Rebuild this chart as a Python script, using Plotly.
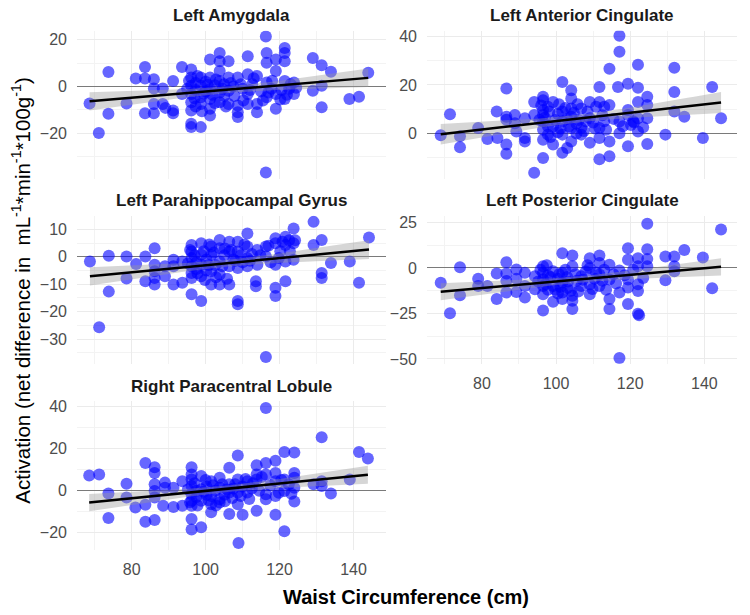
import numpy as np
import plotly.graph_objects as go

# ---------------- data ----------------
regions = ["Left Amygdala", "Left Anterior Cingulate", "Left Parahippocampal Gyrus",
           "Left Posterior Cingulate", "Right Paracentral Lobule"]

p1_x = [68.6, 71.1, 73.7, 73.7, 78.6, 81.1, 83.6, 83.6, 83.6, 86.0, 86.0, 86.0, 86.0, 88.4, 88.4, 89.1,
        91.2, 91.2, 91.2, 93.6, 93.6, 96.1, 96.1, 96.1, 96.1, 96.1, 96.1, 96.1, 96.1, 97.3, 97.3, 97.3,
        98.7, 98.7, 98.7, 98.7, 98.7, 100.0, 100.0, 101.2, 101.2, 101.2, 101.2, 101.2, 101.2, 102.5, 102.5,
        103.8, 103.8, 103.8, 103.8, 103.8, 103.8, 105.0, 105.0, 106.2, 106.2, 106.2, 106.2, 107.5,
        108.7, 108.7, 108.7, 108.7, 110.0, 111.4, 111.4, 111.4, 111.4, 112.6, 113.9, 113.9, 113.9, 115.0,
        116.3, 116.5, 116.5, 116.5, 116.5, 116.3, 117.8, 119.0, 119.0, 119.0, 119.0, 120.2,
        121.4, 121.4, 121.4, 121.4, 121.4, 122.6, 123.9, 123.9, 129.0, 129.0, 131.4, 131.4, 131.4,
        133.9, 138.9, 141.5, 144.0,
        95.0, 95.5, 97.0, 97.8, 99.5, 99.0, 100.5, 101.8, 102.8, 104.5, 105.5, 106.8, 107.8, 109.5,
        110.2, 112.0, 113.0, 115.5, 117.0, 118.0, 120.5, 122.0, 123.0, 124.5]
p1_y = [-7.2, -19.8, 6.2, -11.6, -7.2, 3.4, 8.3, 3.4, -11.4, 3.1, -0.8, -7.4, -11.4, -0.8, -7.4, -9.1,
        2.4, -10.2, -11.4, 8.3, -3.2, 7.3, 3.8, 0.3, -3.2, -6.7, -10.2, -15.9, -17.3, 1.5, -1.5, -8.5,
        -17.3, 3.8, 0.3, -4.6, -7.4, -2.0, 2.0, 11.5, 3.8, -1.1, -5.3, -9.5, -12.4, 0.5, -7.0,
        14.3, 10.8, 6.6, 2.4, -2.5, -6.7, -4.0, 1.0, 10.8, 3.8, -1.8, -7.4, 0.0,
        3.8, -8.1, -11.0, -13.0, -1.0, 12.9, 5.2, -3.2, -7.4, 1.0, 4.5, -7.4, -11.0, -2.0,
        21.3, 14.3, 10.1, 1.7, -4.6, -36.6, -1.0, 11.5, 6.6, -3.2, -9.5, -5.5,
        16.4, 14.3, 10.8, 2.4, -5.3, -1.0, 1.7, -3.2, 12.2, -1.8, 9.1, 0.3, -8.8,
        6.3, -5.3, -4.4, 5.9,
        -1.0, 2.5, -5.0, 4.5, -3.0, -10.5, 0.8, -3.5, 3.0, -1.0, -8.5, 1.5, -4.0, 1.0,
        -6.0, -1.5, 3.5, -6.0, -2.5, 2.5, -1.5, -3.5, 1.0, -0.5]

p2_x = [68.9, 71.4, 74.1, 74.1, 79.0, 81.5, 84.0, 84.2, 86.6, 86.6, 86.6, 86.6, 86.6, 88.9, 88.9, 89.3,
        91.6, 91.6, 91.6, 94.1, 94.1, 94.1, 96.5, 96.5, 96.5, 96.5, 96.5, 96.5, 96.5, 96.5, 97.8, 97.8, 97.8,
        99.2, 99.2, 99.2, 100.5, 100.5, 101.7, 101.7, 101.7, 101.7, 101.7, 103.0, 103.0,
        104.1, 104.1, 104.1, 104.1, 104.1, 104.1, 105.5, 105.5, 106.8, 106.8, 106.8, 108.0,
        109.1, 109.1, 109.1, 110.5, 111.7, 111.7, 111.7, 111.7, 111.7, 113.0, 113.0,
        114.4, 114.4, 114.4, 114.4, 116.7, 117.1, 117.1, 117.1, 117.1, 119.4, 119.4, 119.4, 119.4, 120.8,
        122.1, 122.1, 122.1, 122.1, 122.1, 124.6, 124.6, 124.6, 124.6, 129.5, 131.9, 131.9, 131.9,
        134.6, 139.6, 142.1, 144.5,
        95.5, 96.0, 97.0, 98.2, 98.5, 99.8, 100.8, 101.2, 102.5, 103.5, 104.8, 105.8, 106.2, 107.5,
        108.5, 110.0, 110.8, 112.5, 113.5, 115.5, 118.0, 120.2, 121.0, 123.5]
p2_y = [-0.8, 7.9, -1.2, -5.7, 2.2, -2.3, 9.0, -1.9, 18.5, 6.9, 5.6, -4.6, -8.4, 7.6, 4.2, 0.8,
        6.3, -1.9, -3.3, 13.0, 7.6, -16.2, 15.1, 13.7, 9.7, 7.6, 4.9, 1.5, -2.6, -10.1, 11.0, 3.0, -0.5,
        13.0, 2.9, -4.6, 8.0, 0.5, 21.2, 9.0, 4.9, -0.5, -8.0, 6.0, -6.0,
        17.8, 14.4, 10.3, 6.9, 2.2, -3.3, 4.0, 0.0, 10.3, 2.2, -0.5, 5.0,
        13.0, 6.3, -3.9, 2.0, 19.2, 13.0, 2.2, -1.9, -10.7, 11.0, 5.0,
        26.7, 11.7, -3.3, -9.4, 19.2, 40.3, 33.7, 4.9, 0.1, 20.5, 9.7, 7.6, -5.3, 5.0,
        28.3, 18.8, 13.0, 6.3, 0.8, 15.1, 11.7, 6.3, -4.4, -0.5, 27.1, 17.1, 9.0,
        6.9, -1.9, 19.2, 6.3,
        5.5, 11.5, 6.5, 9.0, -1.5, 5.5, 12.0, 2.0, 10.5, 3.0, 8.5, 12.0, 5.5, 1.0,
        9.0, 4.5, 11.0, 7.5, 1.5, 6.0, 3.0, 3.5, 4.5, 2.5]

p3_x = [68.7, 71.2, 73.8, 73.8, 78.6, 78.6, 81.2, 83.7, 83.7, 86.2, 86.2, 86.2, 86.2, 86.2, 89.0, 89.0,
        91.3, 91.3, 91.3, 93.7, 93.7, 96.2, 96.2, 96.2, 96.2, 96.2, 96.2, 96.2, 97.5, 97.5,
        98.8, 98.8, 98.8, 98.8, 98.8, 100.2, 100.2, 101.5, 101.5, 101.5, 101.5, 102.6,
        103.8, 103.8, 103.8, 103.8, 103.8, 105.1, 106.4, 106.4, 106.4, 106.4, 107.5,
        108.7, 108.7, 108.7, 108.7, 108.7, 110.0, 111.3, 111.3, 111.3, 111.3, 112.5,
        113.6, 113.6, 114.0, 114.0, 116.3, 116.3, 116.3, 117.6, 118.9, 118.9, 118.9, 118.9, 118.9, 120.2,
        121.6, 121.6, 121.6, 121.6, 122.6, 123.8, 123.8, 123.8, 129.2, 129.2, 131.4, 131.4, 131.4,
        133.9, 139.0, 141.5, 144.2,
        95.2, 95.8, 97.0, 97.8, 99.5, 99.8, 100.8, 101.0, 102.2, 102.8, 104.5, 105.2, 105.8, 107.0,
        108.0, 109.5, 110.5, 112.0, 114.8, 117.0, 119.8, 120.8, 122.8, 124.2]
p3_y = [-1.7, -25.7, 0.4, -12.7, 0.1, -7.9, -2.6, 0.1, -8.9, 3.1, -2.9, -5.3, -7.7, -10.1, -3.5, -7.1,
        -1.1, -3.5, -10.1, -1.7, -9.5, 4.3, 1.9, -0.5, -3.5, -5.9, -7.7, -13.7, -2.0, -4.5,
        -16.1, 4.9, 0.7, -2.9, -7.1, -1.0, -5.0, 3.7, 0.7, -5.3, -10.1, -3.0,
        6.1, 3.1, -1.7, -6.5, -10.1, 0.5, 5.5, 1.9, -3.5, -10.1, -1.0,
        -16.1, -17.3, 5.5, 1.9, -4.1, -2.0, 8.5, 3.7, -0.5, -3.5, 1.0,
        -8.9, -10.7, 2.5, -2.9, 3.7, 0.1, -36.5, -2.0, 6.7, 4.9, -2.9, -11.3, -14.3, 2.0,
        7.3, 4.3, -1.7, -8.9, 6.0, 10.3, 4.9, -1.1, 12.7, 4.3, 6.1, -5.9, -7.7,
        -2.3, -1.7, -9.5, 7.0,
        -2.5, 2.5, 0.5, -6.0, 2.0, -8.5, -3.0, 4.5, 1.5, -7.5, -3.5, 3.0, -8.0, 2.5,
        -1.5, 0.5, 4.5, -1.5, 0.5, 4.0, -0.5, 5.5, 2.0, 6.0]

p4_x = [68.9, 71.4, 74.1, 74.1, 79.0, 79.0, 81.5, 84.0, 84.0, 86.6, 86.6, 86.6, 86.6, 89.3, 89.3, 89.3,
        91.6, 91.6, 91.6, 94.3, 94.3, 96.5, 96.5, 96.5, 96.5, 96.5, 96.5, 97.8, 97.8,
        99.2, 99.2, 99.2, 100.5, 100.5, 101.7, 101.7, 101.7, 101.7, 101.7, 103.0, 103.0,
        104.4, 104.4, 104.4, 104.4, 104.4, 105.6, 106.8, 106.8, 108.0, 109.1, 109.1, 109.1, 109.1, 110.4,
        111.7, 111.7, 111.7, 111.7, 113.0, 114.4, 114.4, 114.4, 114.4, 117.1, 117.1, 117.1,
        119.4, 119.4, 119.4, 119.4, 119.4, 122.1, 122.1, 122.1, 122.1, 122.1, 122.4,
        124.6, 124.6, 124.6, 124.6, 129.5, 129.5, 131.9, 131.9, 131.9, 134.6, 139.6, 142.1, 144.5,
        95.2, 95.8, 97.2, 97.5, 98.5, 99.8, 100.8, 101.2, 102.5, 103.2, 104.0, 105.2, 106.0, 107.2,
        108.5, 109.8, 110.8, 112.5, 113.5, 115.5, 116.2, 118.5, 120.8, 123.5]
p4_y = [-8.1, -24.9, 0.4, -15.0, -5.9, -9.9, -9.9, -3.1, -17.1, 3.1, -3.1, -7.2, -13.5, -0.9, -5.9, -13.2,
        -2.7, -9.9, -16.2, -4.5, -11.7, 0.9, -2.7, -6.3, -9.9, -14.4, -23.4, -4.0, -12.0,
        -1.8, -9.9, -18.6, -6.0, -14.0, 8.1, -2.7, -8.1, -13.5, -17.1, -5.0, -11.0,
        6.8, 0.9, -15.3, -18.0, -22.5, -7.0, -4.5, -9.9, -2.0, 5.4, 0.0, -9.0, -14.4, -6.0,
        6.8, 2.7, -3.6, -9.9, -1.0, 1.8, -6.3, -17.1, -22.5, -1.4, -13.5, -49.5,
        10.8, 4.5, -6.3, -10.8, -19.8, 5.4, 0.9, -9.0, -12.6, -25.2, -26.0,
        24.3, 10.3, 4.9, 0.9, 6.3, -6.8, 6.3, 0.9, -1.8, 9.9, 5.8, -11.2, 21.1,
        -7.5, -1.0, -9.0, 1.5, -5.0, -12.0, -3.5, -10.5, -1.0, -7.5, -12.5, -3.5, -13.0, -6.5,
        1.5, -11.5, -2.5, -7.0, -12.0, -3.5, -8.5, -4.0, -1.0, -5.5]

p5_x = [68.5, 71.2, 73.7, 73.7, 78.6, 78.6, 81.0, 83.7, 83.7, 83.7, 86.2, 86.2, 86.2, 86.2, 86.2, 86.2,
        89.0, 89.0, 88.5, 91.3, 91.3, 93.7, 93.7, 96.2, 96.2, 96.2, 96.2, 96.2, 96.2, 96.2, 96.2, 96.2,
        97.5, 97.5, 98.8, 98.8, 98.8, 98.8, 100.2, 100.2, 101.5, 101.5, 101.5, 101.5, 102.6,
        103.8, 103.8, 103.8, 103.8, 105.1, 106.4, 106.4, 106.4, 106.4, 107.5,
        108.7, 108.7, 108.7, 108.7, 108.9, 110.0, 110.0, 111.3, 111.3, 112.5,
        113.8, 113.8, 113.8, 113.8, 116.3, 116.3, 116.3, 116.3, 116.3,
        118.9, 118.9, 118.9, 118.9, 118.9, 121.3, 121.3, 121.3, 121.3,
        124.0, 124.0, 124.0, 124.0, 124.0, 129.2, 131.4, 131.4, 131.4, 133.9, 139.0, 141.5, 143.9,
        95.2, 95.8, 97.0, 97.8, 99.5, 100.0, 100.8, 102.0, 102.8, 104.5, 105.2, 105.8, 107.2, 108.0,
        109.5, 110.8, 111.8, 112.8, 114.5, 115.2, 117.5, 119.8, 120.5, 122.5, 123.2]
p5_y = [7.2, 7.7, -1.3, -13.0, 3.3, -3.3, -8.0, 13.1, -6.7, -14.7, 11.1, 8.4, 3.0, -0.2, -3.3, -13.9,
        3.8, 1.4, -7.2, 1.4, -7.7, 4.5, -7.2, 11.1, 7.7, 5.3, 2.2, -1.7, -4.8, -7.2, -13.4, -18.4,
        0.0, -3.0, 6.9, 0.6, -4.8, -17.3, 2.0, -2.0, 4.5, -2.5, -6.4, -10.3, 0.0,
        6.1, 1.4, -4.1, -5.6, -2.0, 10.8, 3.0, -0.9, -11.1, 1.0,
        16.7, 5.3, -0.9, -6.4, -24.8, -11.4, 2.0, 4.5, -0.9, 1.0,
        12.0, 7.7, 5.3, -9.5, 39.2, 13.1, 7.7, -1.7, -4.1,
        14.2, 8.4, 4.5, -2.5, -11.4, 18.3, 5.3, -0.2, -19.2,
        18.1, 8.4, 6.1, 1.4, -5.2, 3.0, 25.3, 4.5, 2.2, -1.4, 5.3, 18.3, 15.2,
        0.5, -5.5, 3.5, -7.0, -0.5, 5.0, -4.5, 2.5, -7.0, 3.0, -5.0, 0.5, -3.5, 3.0,
        -2.5, 5.5, -4.0, 3.5, 0.0, 6.5, 2.5, -1.0, 5.0, 3.0, -1.5]

x_ticks = [80, 100, 120, 140]
y_ticks = [[-20, 0, 20], [0, 20, 40], [-30, -20, -10, 0, 10], [-50, -25, 0, 25], [-20, 0, 20, 40]]

# ---------------- layout geometry ----------------
W, H = 750, 615
cols = [(77, 386), (427, 737)]
rows = [(28, 178), (215, 365), (403, 553)]
pos = [(0, 0), (1, 0), (0, 1), (1, 1), (0, 2)]
xr = [65.2, 148.8]
yranges = [[-39.4, 23.8], [-18.8, 42.4], [-39.0, 15.0], [-52.7, 28.8], [-28.0, 42.3]]
yminor = [10, 10, 5, 12.5, 10]
show_xlab = [False, False, False, True, True]

xs_all = [p1_x, p2_x, p3_x, p4_x, p5_x]
ys_all = [p1_y, p2_y, p3_y, p4_y, p5_y]

FONT = "Liberation Sans, Arial, sans-serif"
fig = go.Figure()
layout = dict(width=W, height=H, margin=dict(l=0, r=0, t=0, b=0),
              paper_bgcolor="white", plot_bgcolor="white", showlegend=False,
              font=dict(family=FONT, color="#4d4d4d", size=16))
annotations = []

for i in range(5):
    c, r = pos[i]
    xd = [cols[c][0] / W, cols[c][1] / W]
    yd = [1 - rows[r][1] / H, 1 - rows[r][0] / H]
    sx = "" if i == 0 else str(i + 1)
    xa, ya = "x" + sx, "y" + sx
    x = np.array(xs_all[i], dtype=float)
    y = np.array(ys_all[i], dtype=float)

    # linear fit with 95% CI
    n = len(x)
    b, a = np.polyfit(x, y, 1)
    resid = y - (a + b * x)
    s = np.sqrt(np.sum(resid ** 2) / (n - 2))
    xbar = x.mean()
    sxx = np.sum((x - xbar) ** 2)
    xg = np.linspace(x.min(), x.max(), 80)
    yg = a + b * xg
    se = s * np.sqrt(1.0 / n + (xg - xbar) ** 2 / sxx)
    t = 1.98

    fig.add_trace(go.Scatter(x=x, y=y, mode="markers", xaxis=xa, yaxis=ya,
                             marker=dict(size=12, color="rgba(0,0,255,0.6)", line=dict(width=0)),
                             hoverinfo="skip"))
    fig.add_trace(go.Scatter(x=xg, y=yg - t * se, mode="lines", line=dict(width=0),
                             xaxis=xa, yaxis=ya, hoverinfo="skip"))
    fig.add_trace(go.Scatter(x=xg, y=yg + t * se, mode="lines", line=dict(width=0),
                             fill="tonexty", fillcolor="rgba(153,153,153,0.4)",
                             xaxis=xa, yaxis=ya, hoverinfo="skip"))
    fig.add_trace(go.Scatter(x=xg, y=yg, mode="lines", line=dict(color="black", width=2.5),
                             xaxis=xa, yaxis=ya, hoverinfo="skip"))

    layout["xaxis" + sx] = dict(domain=xd, range=xr, anchor=ya, tickvals=x_ticks,
                                showticklabels=show_xlab[i], ticks="", showline=False,
                                zeroline=False, showgrid=True, gridcolor="#ebebeb", gridwidth=1.2,
                                minor=dict(tickvals=[70, 90, 110, 130], showgrid=True,
                                           gridcolor="#f3f3f3", gridwidth=0.8),
                                ticklabelstandoff=8,
                                tickfont=dict(size=16, color="#4d4d4d"))
    ya_min = yminor[i]
    lo, hi = yranges[i]
    mvals = [float(v) for v in np.arange(-100, 100, ya_min) if lo <= v <= hi and v not in y_ticks[i]]
    layout["yaxis" + sx] = dict(domain=yd, range=yranges[i], anchor=xa, tickvals=y_ticks[i],
                                ticks="", showline=False, zeroline=True,
                                zerolinecolor="#7a7a7a", zerolinewidth=1.3,
                                showgrid=True, gridcolor="#ebebeb", gridwidth=1.2,
                                minor=dict(tickvals=mvals, showgrid=True,
                                           gridcolor="#f3f3f3", gridwidth=0.8),
                                ticklabelstandoff=9,
                                tickfont=dict(size=16, color="#4d4d4d"))
    annotations.append(dict(text=regions[i], xref="paper", yref="paper",
                            x=(xd[0] + xd[1]) / 2, y=1 - (rows[r][0] - 15) / H,
                            xanchor="center", yanchor="middle", showarrow=False,
                            font=dict(size=17, color="#1a1a1a", family=FONT, weight="bold")))

annotations.append(dict(text="Waist Circumference (cm)", xref="paper", yref="paper",
                        x=406 / W, y=1 - 601 / H, xanchor="center", yanchor="middle",
                        showarrow=False,
                        font=dict(size=20, color="black", family=FONT, weight="bold")))
annotations.append(dict(text="Activation (net difference in&nbsp; mL<sup>-1</sup>*min<sup>-1</sup>*100g<sup>-1</sup>)",
                        xref="paper", yref="paper", x=21 / W, y=1 - 291 / H,
                        xanchor="center", yanchor="middle", textangle=-90, showarrow=False,
                        font=dict(size=20.5, color="black", family=FONT)))
layout["annotations"] = annotations
fig.update_layout(**layout)
fig.write_html("out.html", config={"displayModeBar": False},
               post_script="document.body.style.margin='0';document.body.style.padding='0';"
                           "document.body.style.overflow='hidden';")
